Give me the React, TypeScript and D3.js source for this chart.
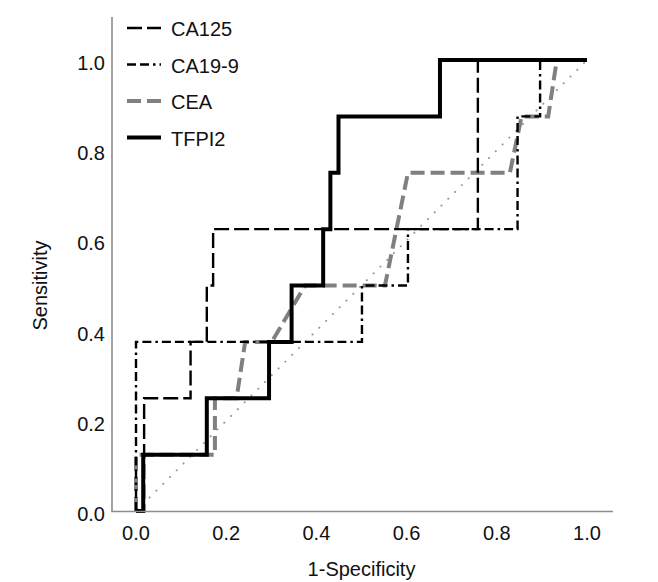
import React from "react";
import * as d3 from "d3";

// ROC vertices (1-Specificity, Sensitivity)
const ca125Fpr = [0, 0.018, 0.018, 0.121, 0.121, 0.157, 0.157, 0.171, 0.171, 0.758, 0.758, 1];
const ca125Tpr = [0, 0, 0.25, 0.25, 0.375, 0.375, 0.5, 0.5, 0.625, 0.625, 1, 1];

const ca199Fpr = [0, 0, 0.501, 0.501, 0.603, 0.603, 0.846, 0.846, 0.896, 0.896, 1];
const ca199Tpr = [0, 0.375, 0.375, 0.5, 0.5, 0.625, 0.625, 0.875, 0.875, 1, 1];

const ceaFpr = [0, 0, 0.175, 0.175, 0.223, 0.242, 0.301, 0.375, 0.552, 0.603, 0.829, 0.855, 0.914, 0.933, 1];
const ceaTpr = [0, 0.125, 0.125, 0.25, 0.25, 0.375, 0.375, 0.5, 0.5, 0.75, 0.75, 0.875, 0.875, 1, 1];

const tfpi2Fpr = [0, 0.016, 0.016, 0.157, 0.157, 0.295, 0.295, 0.345, 0.345, 0.415, 0.415, 0.431, 0.431, 0.449, 0.449, 0.674, 0.674, 1];
const tfpi2Tpr = [0, 0, 0.125, 0.125, 0.25, 0.25, 0.375, 0.375, 0.5, 0.5, 0.625, 0.625, 0.75, 0.75, 0.875, 0.875, 1, 1];

const refLine = [0, 1];
const tickValues = [0, 0.2, 0.4, 0.6, 0.8, 1.0];
const seriesNames = ["CA125", "CA19-9", "CEA", "TFPI2"];

const W = 658;
const H = 582;
const FONT = "'Liberation Sans', Arial, Helvetica, sans-serif";
const FS = 20;

const styles: Record<string, { stroke: string; width: number; dash: string | null }> = {
  "CA125": { stroke: "#000", width: 2.4, dash: "15,5" },
  "CA19-9": { stroke: "#000", width: 2.4, dash: "9,4,9,4,2.5,4" },
  "CEA": { stroke: "#808080", width: 4, dash: "14,6" },
  "TFPI2": { stroke: "#000", width: 4, dash: null },
};

export default function App() {
  const x = d3.scaleLinear().domain([0, 1]).range([136, 587]);
  const y = d3.scaleLinear().domain([0, 1]).range([511, 60]);

  const line = d3
    .line<[number, number]>()
    .x((d) => x(d[0]))
    .y((d) => y(d[1]));

  const zip = (a: number[], b: number[]) => a.map((v, i) => [v, b[i]] as [number, number]);

  const series: Record<string, [number, number][]> = {
    "CA125": zip(ca125Fpr, ca125Tpr),
    "CA19-9": zip(ca199Fpr, ca199Tpr),
    "CEA": zip(ceaFpr, ceaTpr),
    "TFPI2": zip(tfpi2Fpr, tfpi2Tpr),
  };

  const drawOrder = ["CEA", "CA125", "CA19-9", "TFPI2"];

  const axisColor = "#8c8c8c";
  const legendY0 = 28;
  const legendStep = 36.5;

  return (
    <svg
      width={W}
      height={H}
      style={{ position: "absolute", left: 0, top: 0, background: "#fff" }}
      fontFamily={FONT}
    >
      <rect x={0} y={0} width={W} height={H} fill="#fff" />
      {/* reference diagonal */}
      <path
        d={line(zip(refLine, refLine)) || ""}
        fill="none"
        stroke="#999"
        strokeWidth={2}
        strokeDasharray="0.1,9.5"
        strokeLinecap="round"
      />
      {drawOrder.map((name) => {
        const s = styles[name];
        return (
          <path
            key={name}
            d={line(series[name]) || ""}
            fill="none"
            stroke={s.stroke}
            strokeWidth={s.width}
            strokeDasharray={s.dash || undefined}
            strokeLinejoin="miter"
          />
        );
      })}
      {/* axes */}
      <line x1={112} y1={17} x2={112} y2={511.5} stroke={axisColor} strokeWidth={1.6} />
      <line x1={111.2} y1={511.5} x2={613} y2={511.5} stroke={axisColor} strokeWidth={1.6} />
      {tickValues.map((t) => (
        <text
          key={"y" + t}
          x={105}
          y={y(t) + 3}
          textAnchor="end"
          dominantBaseline="central"
          fontSize={FS}
          fill="#111"
        >
          {t.toFixed(1)}
        </text>
      ))}
      {tickValues.map((t) => (
        <text
          key={"x" + t}
          x={x(t)}
          y={533}
          textAnchor="middle"
          dominantBaseline="central"
          fontSize={FS}
          fill="#111"
        >
          {t.toFixed(1)}
        </text>
      ))}
      <text x={x(0.5)} y={569} textAnchor="middle" dominantBaseline="central" fontSize={FS} fill="#111">
        1-Specificity
      </text>
      <text
        transform={`translate(40, ${y(0.5)}) rotate(-90)`}
        textAnchor="middle"
        dominantBaseline="central"
        fontSize={FS}
        fill="#111"
      >
        Sensitivity
      </text>
      {/* legend */}
      {seriesNames.map((name, i) => {
        const s = styles[name];
        const ly = legendY0 + i * legendStep;
        return (
          <g key={"lg" + name}>
            <line
              x1={127}
              x2={161}
              y1={ly}
              y2={ly}
              stroke={s.stroke}
              strokeWidth={s.width}
              strokeDasharray={s.dash || undefined}
            />
            <text x={171} y={ly + 1} dominantBaseline="central" fontSize={FS} fill="#111">
              {name}
            </text>
          </g>
        );
      })}
    </svg>
  );
}
